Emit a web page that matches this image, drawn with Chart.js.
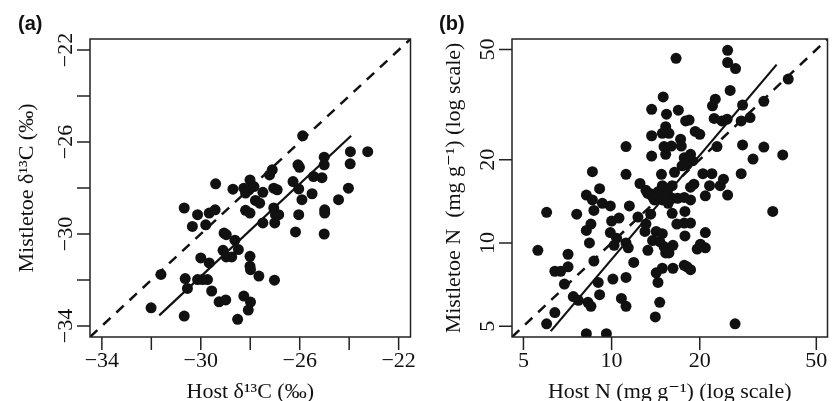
<!DOCTYPE html>
<html>
<head>
<meta charset="utf-8">
<script src="https://cdn.jsdelivr.net/npm/chart.js@4.4.1/dist/chart.umd.min.js"></script>
<style>
  html, body { margin: 0; padding: 0; background: #fff; }
  #wrap { position: relative; width: 833px; height: 401px; }
  .panel { position: absolute; top: 0; height: 401px; }
  #panelA { left: 0; width: 416px; }
  #panelB { left: 416px; width: 417px; }
</style>
</head>
<body>
<div id="wrap">
  <div class="panel" id="panelA"><canvas id="chartA"></canvas></div>
  <div class="panel" id="panelB"><canvas id="chartB"></canvas></div>
</div>
<script>
// (a) carbon isotopes, host vs mistletoe (per mil)
const carbonHost = [
  -25.88, -23.95, -23.25, -25.01, -23.96, -25.01, -26.07, -26.01, -27.11, -27.22,
  -25.44, -25.10, -28.01, -29.40, -26.27, -28.70, -28.26, -28.05, -27.85, -28.19,
  -27.49, -27.05, -26.91, -26.04, -24.03, -25.50, -25.91, -24.43, -27.79, -27.62,
  -30.67, -30.13, -29.66, -29.42, -28.19, -28.01, -27.05, -26.98, -26.85, -26.04,
  -24.99, -24.99, -30.34, -29.80, -29.06, -28.97, -27.49, -27.01, -26.17, -25.01,
  -28.62, -28.48, -29.10, -28.97, -28.75, -30.00, -29.66, -28.01, -28.01, -27.99,
  -27.65, -27.02, -31.61, -30.63, -30.13, -29.93, -29.73, -30.54, -29.56, -29.26,
  -28.99, -28.26, -27.99, -28.08, -28.51, -32.01, -30.67
];
const carbonMistletoe = [
  -25.73, -26.42, -26.42, -26.66, -26.95, -26.99, -26.99, -27.10, -27.21, -27.43,
  -27.50, -27.55, -27.65, -27.82, -27.72, -28.05, -28.01, -28.08, -27.94, -28.22,
  -28.19, -28.01, -28.08, -28.04, -28.01, -28.25, -28.51, -28.51, -28.54, -28.66,
  -28.87, -29.16, -29.09, -28.95, -28.97, -29.09, -28.87, -29.16, -29.16, -29.16,
  -28.95, -29.09, -29.67, -29.60, -29.96, -30.03, -29.52, -29.52, -29.91, -30.00,
  -30.27, -30.68, -30.71, -31.00, -31.00, -31.04, -31.26, -30.97, -31.40, -31.55,
  -31.83, -32.01, -31.76, -31.94, -31.98, -31.98, -31.98, -32.37, -32.48, -32.95,
  -32.87, -32.70, -32.96, -33.31, -33.71, -33.21, -33.57
];
const carbonFitHost = [-31.68, -23.92];
const carbonFitMistletoe = [-33.54, -25.73];
const carbonLimits = [-34.48, -21.52];
const carbonTicks = [-34, -32, -30, -28, -26, -24, -22];
const carbonTickLabels = [-34, -30, -26, -22];

// (b) nitrogen, host vs mistletoe (mg g-1, log axes)
const nitrogenHost = [
  15.0, 13.7, 15.4, 15.3, 13.7, 14.9, 11.2, 15.1, 13.7, 15.3, 8.6, 11.2, 12.5, 14.8, 14.9,
  24.9, 16.6, 24.9, 26.5, 40.1, 25.4, 33.1, 28.0, 22.6, 22.1, 16.9, 22.4, 23.8, 24.8, 27.7,
  29.7, 17.9, 18.4, 19.3, 20.0, 17.2, 17.3, 22.9, 28.0, 33.1, 38.4, 30.4, 18.6, 18.9, 17.7,
  17.4, 18.1, 16.4, 20.5, 22.0, 27.7, 24.1, 23.5, 21.6, 19.1, 18.6, 16.1, 16.0, 15.7,
  6.0, 7.6, 8.2, 8.6, 8.7, 9.3, 9.9, 9.1, 11.5, 10.0, 10.6, 8.5, 8.2, 9.9, 12.3,
  13.6, 13.1, 13.0, 14.2, 14.9, 13.8, 14.6, 15.1, 8.4, 10.4, 11.2, 10.2, 11.4, 5.6, 7.1,
  13.3, 15.3, 6.4, 6.7, 7.1, 8.7, 6.9, 9.0, 10.1, 11.2, 11.9, 14.2, 14.9, 14.4, 7.4,
  7.7, 8.3, 8.5, 9.1, 10.8, 11.2, 14.6, 14.1, 6.4, 6.0, 8.2, 9.6, 13.3, 13.8, 14.4,
  14.9, 13.1,
  35.5, 24.9, 20.9, 26.4, 16.1, 16.8, 17.7, 18.6, 16.1, 17.8, 16.7, 17.7, 18.6, 17.8, 20.9,
  16.2, 15.7, 20.1, 19.6, 20.9, 16.2, 17.7, 18.1, 18.6,
  13.5, 15.5, 15.3, 14.0, 15.6
];
const nitrogenMistletoe = [
  33.7, 30.4, 29.2, 26.3, 24.4, 24.9, 22.3, 22.3, 20.6, 20.9, 18.1, 17.7, 16.4, 17.7, 16.1,
  49.7, 46.5, 44.9, 42.7, 39.1, 35.6, 32.5, 31.5, 33.1, 31.3, 30.2, 28.2, 27.6, 28.0, 27.6,
  28.4, 27.6, 27.8, 25.3, 24.7, 23.7, 22.4, 22.3, 22.6, 22.2, 20.8, 20.1, 20.9, 19.8, 20.3,
  19.0, 19.2, 18.0, 17.8, 17.8, 17.8, 17.0, 16.1, 16.1, 16.3, 15.9, 16.1, 22.4, 24.9,
  12.9, 12.7, 14.9, 14.3, 13.1, 13.9, 13.6, 15.7, 13.6, 12.0, 12.3, 11.7, 11.1, 10.9, 12.4,
  12.7, 11.7, 11.0, 11.0, 10.8, 10.2, 10.1, 9.7, 10.0, 10.4, 10.0, 9.8, 9.6, 9.4, 9.1,
  9.4, 9.2, 7.9, 7.9, 8.2, 8.6, 7.1, 7.2, 7.4, 7.5, 8.5, 7.8, 8.1, 7.2, 6.4,
  6.2, 6.1, 5.9, 6.5, 6.3, 5.9, 6.1, 5.4, 5.6, 5.1, 4.7, 4.7, 15.1, 14.7, 15.3,
  14.3, 15.5,
  13.0, 14.9, 14.8, 5.1, 14.5, 14.5, 14.6, 14.3, 12.8, 13.0, 11.7, 11.8, 11.8, 10.6, 10.9,
  9.8, 9.2, 9.9, 9.5, 9.6, 8.1, 8.3, 8.2, 8.0,
  15.1, 15.3, 14.7, 14.3, 13.9
];
const nitrogenFitHost = [6.2, 36.6];
const nitrogenFitMistletoe = [4.8, 44.1];
const nitrogenLimits = [4.57, 54.6];
const nitrogenTicks = [5, 10, 20, 50];
const nitrogenTickLabels = [5, 10, 20, 50];

const ink = '#111';
const serif = '"Liberation Serif", "DejaVu Serif", serif';

function pairs(xs, ys) {
  return xs.map((x, i) => ({ x, y: ys[i] }));
}

function tickText(v) {
  return v < 0 ? '\u2212' + Math.abs(v) : String(v);
}

// base-R look: box, outward ticks, axis-parallel labels
const baseAxes = {
  id: 'baseAxes',
  afterDraw(chart, args, opts) {
    const { ctx, chartArea: a, scales: { x, y } } = chart;
    ctx.save();
    ctx.strokeStyle = '#222';
    ctx.lineWidth = 1.5;
    ctx.strokeRect(a.left, a.top, a.right - a.left, a.bottom - a.top);

    ctx.beginPath();
    opts.xTicks.forEach((v) => {
      const px = x.getPixelForValue(v);
      ctx.moveTo(px, a.bottom);
      ctx.lineTo(px, a.bottom + 13);
    });
    opts.yTicks.forEach((v) => {
      const py = y.getPixelForValue(v);
      ctx.moveTo(a.left, py);
      ctx.lineTo(a.left - 13, py);
    });
    ctx.stroke();

    ctx.fillStyle = ink;
    ctx.font = `22px ${serif}`;
    ctx.textAlign = 'center';
    ctx.textBaseline = 'alphabetic';
    opts.xLabels.forEach((v) => ctx.fillText(tickText(v), x.getPixelForValue(v), a.bottom + 29.5));
    opts.yLabels.forEach((v) => {
      ctx.save();
      ctx.translate(a.left - 18, y.getPixelForValue(v));
      ctx.rotate(-Math.PI / 2);
      ctx.fillText(tickText(v), 0, 0);
      ctx.restore();
    });

    ctx.fillText(opts.xTitle, (a.left + a.right) / 2, 398);
    ctx.save();
    ctx.translate(a.left - opts.yTitleGap, (a.top + a.bottom) / 2);
    ctx.rotate(-Math.PI / 2);
    ctx.fillText(opts.yTitle, 0, 0);
    ctx.restore();

    ctx.font = 'bold 20px "Liberation Sans", Arial, sans-serif';
    ctx.textAlign = 'left';
    ctx.fillText(opts.tag, opts.tagX, 30);
    ctx.restore();
  },
};

function buildPanel(canvas, cfg) {
  const scale = (lim) => ({ type: cfg.scaleType, min: lim[0], max: lim[1], display: false });
  return new Chart(canvas.getContext('2d'), {
    type: 'scatter',
    data: {
      datasets: [
        {
          label: 'samples',
          data: pairs(cfg.host, cfg.mistletoe),
          backgroundColor: ink,
          borderWidth: 0,
          pointRadius: 5.5,
          pointHoverRadius: 5.5,
        },
        {
          label: 'fit',
          data: pairs(cfg.fitHost, cfg.fitMistletoe),
          showLine: true,
          borderColor: ink,
          borderWidth: 2.2,
          pointRadius: 0,
        },
        {
          label: '1:1',
          data: pairs(cfg.limits, cfg.limits),
          showLine: true,
          borderColor: ink,
          borderWidth: 2.5,
          borderDash: [10, 8],
          pointRadius: 0,
        },
      ],
    },
    options: {
      responsive: true,
      maintainAspectRatio: false,
      animation: false,
      events: [],
      layout: { padding: cfg.padding },
      scales: { x: scale(cfg.limits), y: scale(cfg.limits) },
      plugins: {
        legend: { display: false },
        tooltip: { enabled: false },
        baseAxes: cfg.axes,
      },
    },
    plugins: [baseAxes],
  });
}

buildPanel(document.getElementById('chartA'), {
  scaleType: 'linear',
  host: carbonHost,
  mistletoe: carbonMistletoe,
  fitHost: carbonFitHost,
  fitMistletoe: carbonFitMistletoe,
  limits: carbonLimits,
  padding: { left: 90, right: 4, top: 39, bottom: 64 },
  axes: {
    xTicks: carbonTicks, yTicks: carbonTicks,
    xLabels: carbonTickLabels, yLabels: carbonTickLabels,
    xTitle: 'Host \u03b4\u00b9\u00b3C (\u2030)',
    yTitle: 'Mistletoe \u03b4\u00b9\u00b3C (\u2030)',
    yTitleGap: 57,
    tag: '(a)', tagX: 18,
  },
});

buildPanel(document.getElementById('chartB'), {
  scaleType: 'logarithmic',
  host: nitrogenHost,
  mistletoe: nitrogenMistletoe,
  fitHost: nitrogenFitHost,
  fitMistletoe: nitrogenFitMistletoe,
  limits: nitrogenLimits,
  padding: { left: 96, right: 1, top: 39, bottom: 64 },
  axes: {
    xTicks: nitrogenTicks, yTicks: nitrogenTicks,
    xLabels: nitrogenTickLabels, yLabels: nitrogenTickLabels,
    xTitle: 'Host N (mg g\u207b\u00b9) (log scale)',
    yTitle: 'Mistletoe N  (mg g\u207b\u00b9) (log scale)',
    yTitleGap: 52,
    tag: '(b)', tagX: 23,
  },
});
</script>
</body>
</html>
